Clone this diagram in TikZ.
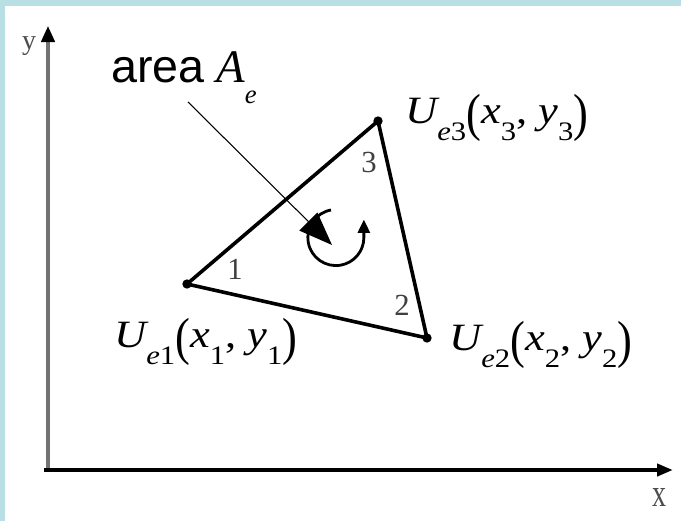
\documentclass[tikz,border=0pt]{standalone}
\usepackage{fontspec}
\setmainfont{Liberation Serif}
\newfontfamily\arialfont{Liberation Sans}
\usetikzlibrary{arrows.meta}

\definecolor{framecol}{RGB}{184,223,227}

% lowered subscript and tall parentheses of the node labels
\newcommand\dropsub[1]{\raisebox{-0.46em}{\fontsize{20}{20}\selectfont #1}}
\newcommand\tallpar[1]{\raisebox{-0.2em}{\scalebox{1}[1.35]{\upshape #1}}}
\newcommand\ulabel[1]{\scalebox{1.15}[1]{\itshape U\dropsub{e\upshape #1}\tallpar{(}x\dropsub{\upshape #1}{\upshape ,} y\dropsub{\upshape #1}\tallpar{)}}}

\begin{document}
\begin{tikzpicture}[x=0.75pt, y=-0.75pt,
        yaxis/.style={draw=black!55, line width=2.6pt, -{Triangle[length=12pt,width=10pt,fill=black,color=black]}},
        xaxis/.style={draw=black, line width=3.4pt, -{Triangle[length=12pt,width=9pt]}},
        edge/.style={line width=2.7pt, line join=round},
        vdot/.style={circle, fill=black, inner sep=0pt, minimum size=7pt},
        corner/.style={font=\fontsize{23}{24}\selectfont, text=black!75},
        axlab/.style={font=\fontsize{21}{22}\selectfont, text=black!70},
        ulab/.style={anchor=base west, inner sep=0pt, font=\fontsize{29}{32}\selectfont},
        pointer/.style={line width=0.8pt, -{Triangle[length=25pt,width=19pt]}},
        turn/.style={line width=2.1pt, -{Triangle[length=10pt,width=9pt]}}
    ]
    \useasboundingbox (0,0) rectangle (681,521);
    \fill[framecol] (0,0) rectangle (681,521);
    \fill[white] (5,6) rectangle (681,521);

    % axes
    \coordinate (origin) at (48,470);
    \coordinate (ytip) at (48,26);
    \coordinate (xtip) at (673,470);
    \draw[yaxis] (origin) -- (ytip);
    \draw[xaxis] ([xshift=-3pt]origin) -- (xtip);
    \node[axlab] (ylab) at (29,46) {y};
    \node[axlab] (xlab) at (659,497) {\scalebox{1}[1.4]{x}};

    % element
    \node[vdot] (v1) at (187,284) {};
    \node[vdot] (v2) at (427,338) {};
    \node[vdot] (v3) at (378,121) {};
    \draw[edge] (v1.center) -- (v2.center) -- (v3.center) -- cycle;

    \node[corner] (c1) at (235,269) {1};
    \node[corner] (c2) at (402,305) {2};
    \node[corner] (c3) at (369,162) {3};

    \node[ulab] (u1) at (114,347) {\ulabel{1}};
    \node[ulab] (u2) at (449,350) {\ulabel{2}};
    \node[ulab] (u3) at (405,123) {\ulabel{3}};

    % area label and sense of rotation
    \node[anchor=base west, inner sep=0pt, font=\fontsize{35}{40}\selectfont] (area) at (111,82)
        {{\arialfont area} {\itshape A}\dropsub{\itshape e}};
    \coordinate (ptr) at (188,102);
    \coordinate (ptrtip) at (332,245);
    \coordinate (turnstart) at (331,210);
    \draw[turn] (turnstart) arc[start angle=100, end angle=360, radius=21pt] -- ++(0,-18);
    \draw[pointer] (ptr) -- (ptrtip);
\end{tikzpicture}
\end{document}
